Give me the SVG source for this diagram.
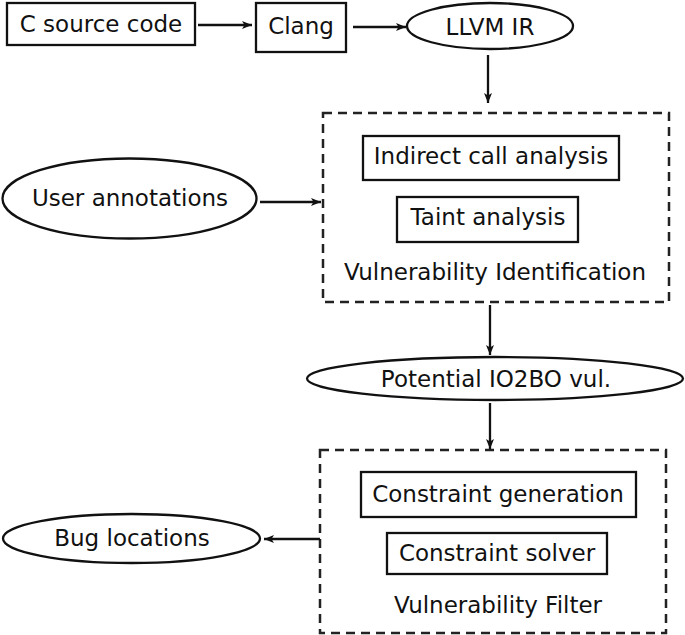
<svg xmlns="http://www.w3.org/2000/svg" width="685" height="635" viewBox="0 0 685 635">
<defs>
<marker id="arr" markerUnits="userSpaceOnUse" markerWidth="12" markerHeight="10" refX="10" refY="4" orient="auto">
<path d="M0,0 L10,4 L0,8 L2.5,4 Z" fill="#111"/>
</marker>
<style>
.box{fill:#fff;stroke:#111;stroke-width:2.3}
.dash{fill:none;stroke:#222;stroke-width:2.5;stroke-dasharray:9 6}
.t{font-family:"DejaVu Sans","Liberation Sans",sans-serif;font-size:23px;fill:#111;text-anchor:middle}
.c{stroke:#111;stroke-width:2.3;fill:none;marker-end:url(#arr)}
</style>
</defs>
<rect width="685" height="635" fill="#fff"/>
<g id="n-csource"><rect class="box" x="7" y="3" width="188" height="42"/><text class="t" x="101" y="32">C source code</text></g>
<g id="n-clang"><rect class="box" x="256" y="3" width="90" height="49"/><text class="t" x="301" y="34">Clang</text></g>
<g id="n-llvm"><ellipse class="box" cx="490" cy="26" rx="83" ry="23"/><text class="t" x="490" y="35">LLVM IR</text></g>
<g id="n-vulnid"><rect class="dash" x="323" y="113" width="346" height="189"/>
<rect class="box" x="363" y="136" width="256" height="44"/><text class="t" x="491" y="164">Indirect call analysis</text>
<rect class="box" x="397" y="197" width="181" height="45"/><text class="t" x="488" y="225">Taint analysis</text>
<text class="t" x="495" y="280">Vulnerability Identification</text></g>
<g id="n-user"><ellipse class="box" cx="129.5" cy="198.5" rx="127" ry="40"/><text class="t" x="130" y="206">User annotations</text></g>
<g id="n-potential"><ellipse class="box" cx="495" cy="378.5" rx="188" ry="21.5"/><text class="t" x="496" y="387">Potential IO2BO vul.</text></g>
<g id="n-vulnfilter"><rect class="dash" x="320" y="450" width="346" height="183"/>
<rect class="box" x="361" y="472" width="275" height="45"/><text class="t" x="498" y="502">Constraint generation</text>
<rect class="box" x="387" y="533" width="220" height="41"/><text class="t" x="497" y="561">Constraint solver</text>
<text class="t" x="498" y="613">Vulnerability Filter</text></g>
<g id="n-bug"><ellipse class="box" cx="131.5" cy="538.5" rx="128.5" ry="24.5"/><text class="t" x="132" y="546">Bug locations</text></g>
<g id="connectors">
<line class="c" x1="198" y1="25" x2="252" y2="25"/>
<line class="c" x1="353" y1="27" x2="406" y2="27"/>
<line class="c" x1="488" y1="55" x2="488" y2="103"/>
<line class="c" x1="260" y1="202" x2="321" y2="202"/>
<line class="c" x1="490" y1="305" x2="490" y2="355"/>
<line class="c" x1="490" y1="403" x2="490" y2="449"/>
<line class="c" x1="320" y1="539" x2="264" y2="539"/>
</g>
</svg>
